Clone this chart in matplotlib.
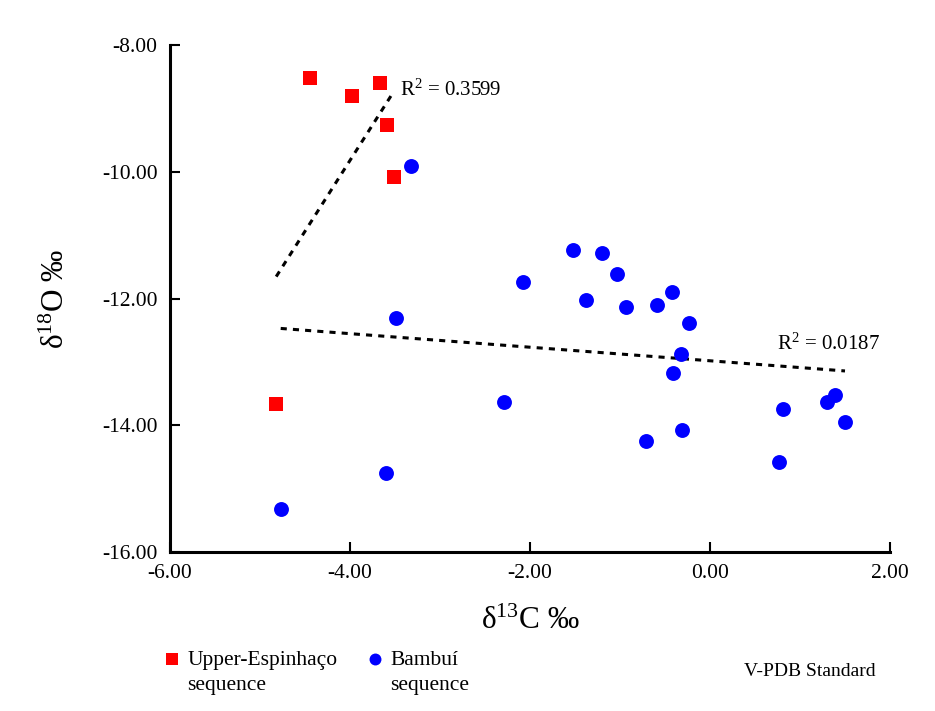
import numpy as np
import matplotlib
matplotlib.use("Agg")
import matplotlib.pyplot as plt

plt.rcParams["font.family"] = ["Liberation Serif", "DejaVu Serif"]
plt.rcParams["mathtext.fontset"] = "custom"
plt.rcParams["mathtext.rm"] = "Liberation Serif"
plt.rcParams["mathtext.it"] = "Liberation Serif:italic"

# ── Data (d13C, d18O) ────────────────────────────────────────────────────────
ESP_C = [-4.44, -3.98, -3.67, -3.59, -3.51, -4.82]
ESP_O = [-8.52, -8.81, -8.60, -9.27, -10.09, -13.66]

BAM_C = [-3.32, -3.49, -2.29, -3.60, -4.77, -1.52, -1.20, -2.08, -1.03, -1.38,
         -0.93, -0.59, -0.42, -0.23, -0.32, -0.41, -0.71, -0.31, 0.81, 0.77,
         1.30, 1.39, 1.50]
BAM_O = [-9.91, -12.30, -13.64, -14.76, -15.32, -11.23, -11.28, -11.74, -11.61, -12.03,
         -12.14, -12.11, -11.90, -12.39, -12.87, -13.18, -14.25, -14.07, -13.74, -14.58,
         -13.64, -13.52, -13.95]

R2_LABELS = ["0.3599", "0.0187"]   # as printed on the original
X_TICKS = [-6, -4, -2, 0, 2]
Y_TICKS = [-8, -10, -12, -14, -16]

fig = plt.figure(figsize=(9.35, 7.11), dpi=100)
ax = fig.add_axes([170/935, 1 - 552/711, 720/935, 507/711])


def trend(ax, xs, ys):
    xs, ys = np.asarray(xs), np.asarray(ys)
    k, b = np.polyfit(xs, ys, 1)
    xx = np.array([xs.min(), xs.max()])
    ax.plot(xx, k * xx + b, color="black", lw=2.2, ls=(0, (2, 2)), zorder=2)
    return xx, k * xx + b


xr, yr = trend(ax, ESP_C, ESP_O)
xb, yb = trend(ax, BAM_C, BAM_O)

ax.scatter(ESP_C, ESP_O, marker="s", s=100, color="#ff0000", lw=0, zorder=3,
           label="Upper-Espinhaço\nsequence")
ax.scatter(BAM_C, BAM_O, marker="o", s=115, color="#0000ff", lw=0, zorder=3,
           label="Bambuí\nsequence")

ax.text(xr[1] + 0.07, yr[1] + 0.02, f"R$^2$ = {R2_LABELS[0]}", fontsize=15,
        ha="left", va="center")
ax.text(xb[1] + 0.39, yb[1] + 0.42, f"R$^2$ = {R2_LABELS[1]}", fontsize=15,
        ha="right", va="center")

ax.set_xlim(-6, 2)
ax.set_ylim(-16, -8)
ax.set_xticks(X_TICKS)
ax.set_yticks(Y_TICKS)
ax.set_xticklabels([f"{v:.2f}" for v in X_TICKS])
ax.set_yticklabels([f"{v:.2f}" for v in Y_TICKS])
ax.tick_params(direction="in", length=7, width=1.5, labelsize=15.5, pad=9)
for s in ["top", "right"]:
    ax.spines[s].set_visible(False)
for s in ["left", "bottom"]:
    ax.spines[s].set_linewidth(2.2)

ax.set_xlabel("δ$^{13}$C ‰", fontsize=22.5, labelpad=17)
ax.set_ylabel("δ$^{18}$O ‰", fontsize=22.5, labelpad=22)

leg = fig.legend(loc="upper left", bbox_to_anchor=(166/935, 1 - 651/711), ncol=2,
                 frameon=False, fontsize=15.5, handlelength=0.6, handletextpad=0.4,
                 columnspacing=1.45, borderpad=0, borderaxespad=0,
                 markerscale=0.8, labelspacing=0)
for t in leg.get_texts():
    t.set_linespacing(1.45)
# put the markers level with the first text line
for h in leg.legend_handles:
    h.set_offsets(h.get_offsets() + np.array([0, 11]))

fig.text(876/935, 1 - 672/711, "V-PDB Standard", fontsize=14, va="center", ha="right")

fig.savefig("out.png", dpi=100)
